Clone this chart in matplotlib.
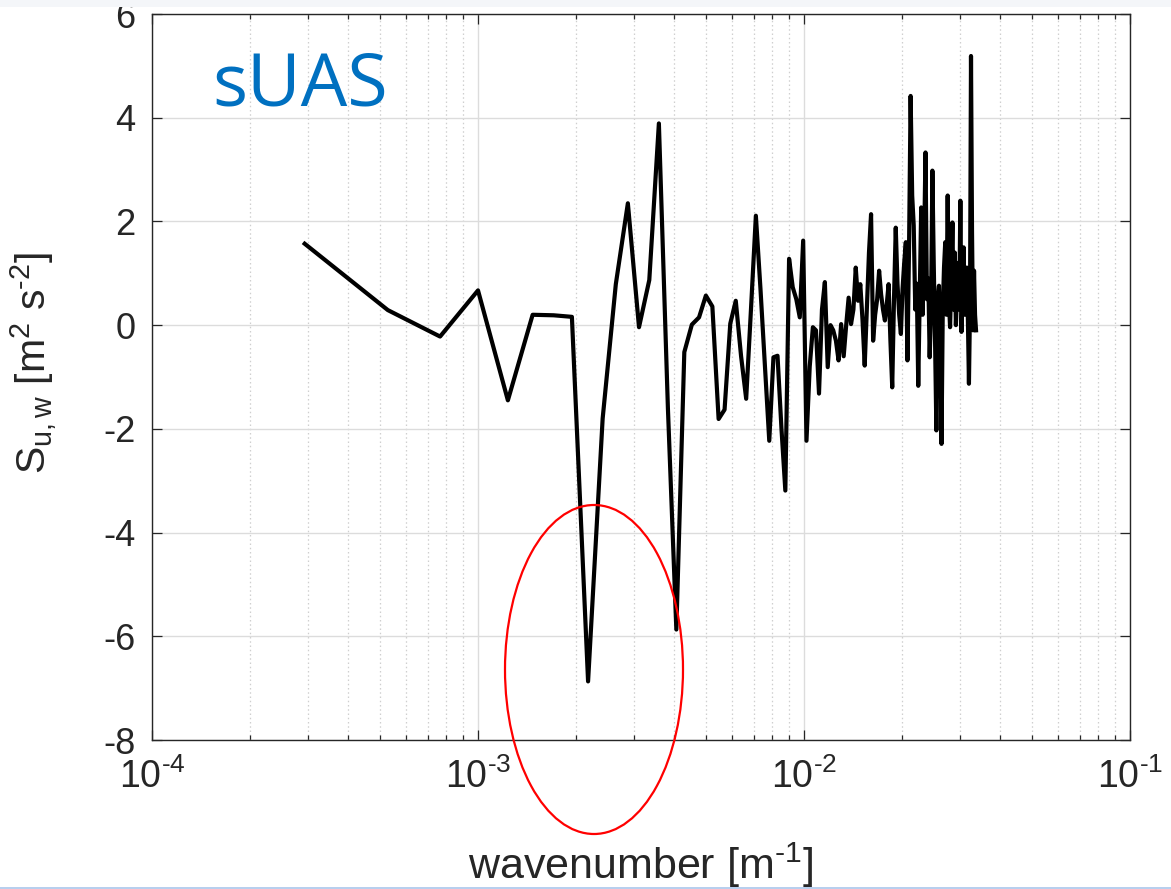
import numpy as np
import matplotlib
matplotlib.use('Agg')
import matplotlib.pyplot as plt
from matplotlib.patches import Ellipse, Rectangle
from matplotlib.ticker import FixedLocator, NullFormatter

# ---------------- data ----------------
# wavenumber in units of 1e-3 m^-1
wavenumber_e3 = [
    0.294, 0.529, 0.765, 1.000, 1.235, 1.471, 1.706, 1.941, 2.176, 2.412,
    2.647, 2.882, 3.118, 3.353, 3.588, 3.824, 4.059, 4.294, 4.529, 4.765,
    5.000, 5.235, 5.471, 5.706, 5.941, 6.176, 6.412, 6.647, 6.882, 7.118,
    7.353, 7.588, 7.824, 8.059, 8.294, 8.529, 8.765, 9.000, 9.235, 9.471,
    9.706, 9.941, 10.176, 10.412, 10.647, 10.882, 11.118, 11.353, 11.588, 11.824,
    12.059, 12.294, 12.529, 12.765, 13.000, 13.235, 13.471, 13.706, 13.941, 14.176,
    14.412, 14.647, 14.882, 15.118, 15.353, 15.588, 15.824, 16.059, 16.294, 16.529,
    16.765, 17.000, 17.235, 17.471, 17.706, 17.941, 18.176, 18.412, 18.647, 18.882,
    19.118, 19.353, 19.588, 19.824, 20.059, 20.294, 20.529, 20.765, 21.000, 21.235,
    21.471, 21.706, 21.941, 22.176, 22.412, 22.647, 22.882, 23.118, 23.353, 23.588,
    23.824, 24.059, 24.294, 24.529, 24.765, 25.000, 25.235, 25.471, 25.706, 25.941,
    26.176, 26.412, 26.647, 26.882, 27.118, 27.353, 27.588, 27.824, 28.059, 28.294,
    28.529, 28.765, 29.000, 29.235, 29.471, 29.706, 29.941, 30.176, 30.412, 30.647,
    30.882, 31.118, 31.353, 31.588, 31.824, 32.059, 32.294, 32.529, 32.765, 33.000,
    33.235, 33.471, 33.706,
]
cospectrum = [
    1.57, 0.29, -0.22, 0.67, -1.45, 0.20, 0.19, 0.16, -6.87, -1.80,
    0.79, 2.35, -0.04, 0.87, 3.89, -1.60, -5.87, -0.52, 0.01, 0.15,
    0.57, 0.36, -1.81, -1.63, 0.03, 0.47, -0.60, -1.42, 0.35, 2.11,
    0.70, -0.80, -2.23, -0.62, -0.59, -2.00, -3.19, 1.28, 0.73, 0.50,
    0.15, 1.63, -2.23, -0.80, -0.04, -0.10, -1.32, 0.30, 0.83, -0.81,
    0.00, -0.10, -0.30, -0.68, 0.02, -0.60, 0.00, 0.53, 0.02, 0.30,
    1.11, 0.47, 0.79, 0.10, -0.78, 0.30, 1.40, 2.14, -0.30, 0.20,
    0.50, 1.05, 0.60, 0.30, 0.09, 0.40, 0.79, -0.30, -1.20, 0.50,
    1.88, 0.80, 0.20, -0.17, 0.70, 1.20, 1.60, -0.68, 1.50, 4.42,
    2.50, 1.92, 0.30, 0.80, -1.17, 0.50, 2.27, 0.20, 1.50, 3.33,
    0.50, 0.90, -0.62, 0.30, 2.98, 1.20, -0.30, -2.03, 0.50, 0.76,
    -0.50, -2.29, 0.30, 1.11, 1.60, 0.20, 2.50, 0.50, -0.04, 0.90,
    1.98, 0.30, 1.40, 0.00, 0.60, 1.20, 0.30, 2.40, -0.13, 0.70,
    1.50, 0.20, 0.90, 1.11, 0.10, -1.13, 0.30, 5.19, 1.80, -0.10,
    1.05, 0.20, -0.10,
]
x_major_ticks = [1e-4, 1e-3, 1e-2, 1e-1]
x_tick_labels = ['$10^{\u2010 4}$', '$10^{\u2010 3}$', '$10^{\u2010 2}$', '$10^{\u2010 1}$']
y_ticks = [-8, -6, -4, -2, 0, 2, 4, 6]
y_tick_labels = ['-8', '-6', '-4', '-2', '0', '2', '4', '6']
title_text = 'sUAS'
x_label = 'wavenumber [m$^{\u20101}$]'
y_label = 'S$_{u,w}$ [m$^{2}$ s$^{\u20102}$]'

k = np.array(wavenumber_e3) * 1e-3
s = np.array(cospectrum)

# ---------------- style ----------------
plt.rcParams['font.family'] = ['Liberation Sans', 'DejaVu Sans']
plt.rcParams['mathtext.fontset'] = 'custom'
plt.rcParams['mathtext.rm'] = 'Liberation Sans'
plt.rcParams['mathtext.it'] = 'Liberation Sans'
plt.rcParams['mathtext.bf'] = 'Liberation Sans'
plt.rcParams['mathtext.default'] = 'regular'

W, H = 1171, 889
fig = plt.figure(figsize=(W / 100, H / 100), dpi=100)
fig.patch.set_facecolor('white')

ax = fig.add_axes([152 / W, 1 - 740 / H, 978 / W, 726 / H])
ax.set_xscale('log')
ax.plot(k, s, color='black', lw=3.0, zorder=3)

ax.set_xlim(1e-4, 1e-1)
ax.set_ylim(-8, 6)
ax.xaxis.set_major_locator(FixedLocator(x_major_ticks))
ax.set_xticklabels(x_tick_labels)
minor = [m * d for d in [1e-4, 1e-3, 1e-2] for m in range(2, 10)]
ax.xaxis.set_minor_locator(FixedLocator(minor))
ax.xaxis.set_minor_formatter(NullFormatter())
ax.set_yticks(y_ticks)
ax.set_yticklabels(y_tick_labels)

axcol = '#262626'
ax.grid(which='major', color='#dcdcdc', lw=1.0, ls='-', zorder=0)
ax.grid(which='minor', axis='x', color='#cfcfcf', lw=0.9, ls=(0, (1.2, 2.2)), zorder=0)
ax.set_axisbelow(True)
for sp in ax.spines.values():
    sp.set_color(axcol)
    sp.set_linewidth(1.0)
ax.tick_params(which='both', direction='in', top=True, right=True,
               color=axcol, labelcolor=axcol, width=0.9)
ax.tick_params(which='major', length=7.5)
ax.tick_params(which='minor', length=3.8)
ax.tick_params(axis='y', labelsize=26, pad=12)
ax.tick_params(axis='x', labelsize=27, pad=13)

ax.set_xlabel(x_label, fontsize=31, color=axcol)
ax.xaxis.set_label_coords(0.5, -0.138)
ax.set_ylabel(y_label, fontsize=29.5, color=axcol)
ax.yaxis.set_label_coords(-0.095, 0.52)

# title text in blue
fig.text(212 / W, 1 - 106 / H, title_text, fontsize=53, color='#0070C0',
         family=['Open Sans', 'DejaVu Sans'], ha='left', va='baseline')

# red ellipse annotation (figure coordinates)
ell = Ellipse((594 / W, 1 - 669.5 / H), 178 / W, 329 / H, transform=fig.transFigure,
              fill=False, edgecolor='#ff0000', lw=1.6, zorder=20)
fig.add_artist(ell)

# slide band at top and thin line at bottom
fig.add_artist(Rectangle((0, 1 - 7 / H), 1, 7 / H, transform=fig.transFigure,
                         facecolor='#f4f6f9', edgecolor='none', zorder=30))
fig.add_artist(Rectangle((0, 0), 1, 2.5 / H, transform=fig.transFigure,
                         facecolor='#b8cfee', edgecolor='none', zorder=30))

fig.savefig('out.png', dpi=100)
